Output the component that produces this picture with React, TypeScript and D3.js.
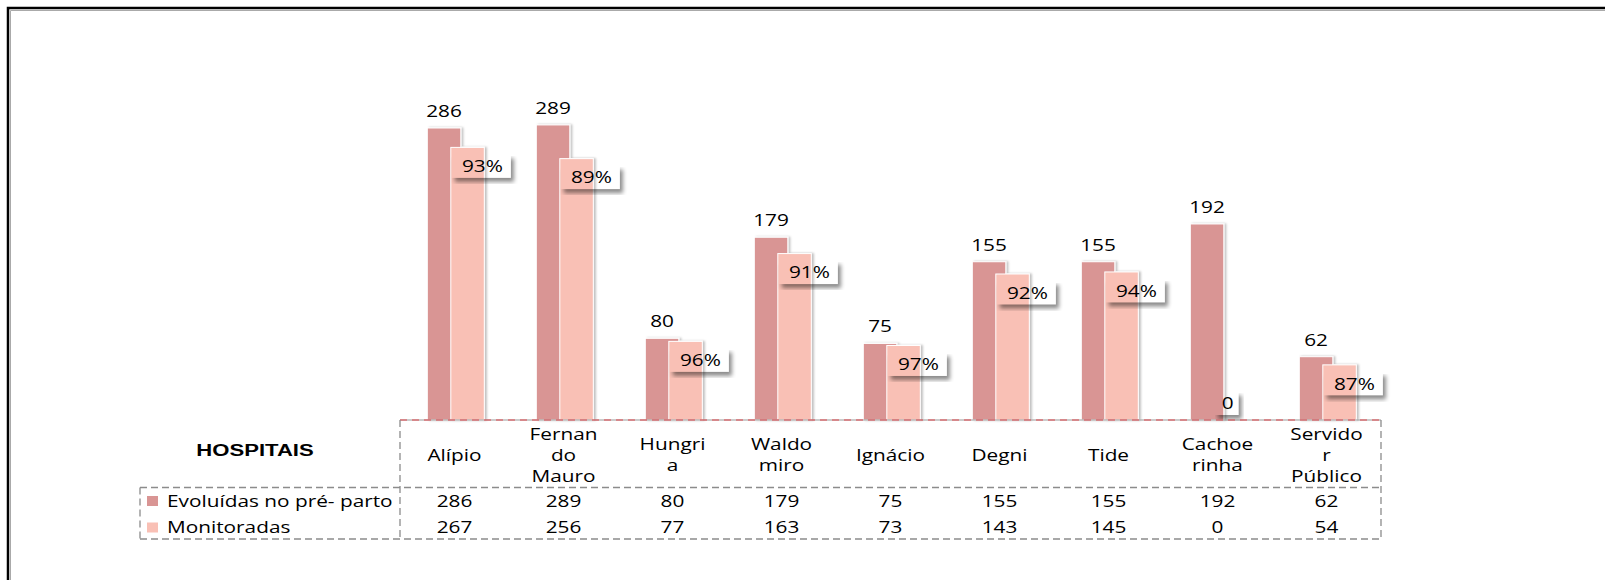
import React from 'react';
import * as d3 from 'd3';

// hospital names and how they wrap in the table header
const hospitals = ['Alípio', 'Fernando Mauro', 'Hungria', 'Waldomiro', 'Ignácio', 'Degni', 'Tide', 'Cachoeirinha', 'Servidor Público'];
const hospitalLines = [
  ['Alípio'],
  ['Fernan', 'do', 'Mauro'],
  ['Hungri', 'a'],
  ['Waldo', 'miro'],
  ['Ignácio'],
  ['Degni'],
  ['Tide'],
  ['Cachoe', 'rinha'],
  ['Servido', 'r', 'Público'],
];
const seriesNames = ['Evoluídas no pré- parto', 'Monitoradas'];
const evoluidas = [286, 289, 80, 179, 75, 155, 155, 192, 62];
const monitoradas = [267, 256, 77, 163, 73, 143, 145, 0, 54];
const pctLabels = ['93%', '89%', '96%', '91%', '97%', '92%', '94%', '0', '87%'];

const DARK = '#D99594';
const LIGHT = '#F9C0B5';
const FONT = '"Open Sans", "DejaVu Sans", sans-serif';
const SX = 1.3; // the original picture is stretched sideways

const W = 1605;
const H = 580;
const baseY = 420;
const axisLeft = 400;
const axisRight = 1381;
const barW = 33.5;
const lightOffset = 23.5;

const Txt = ({ x, y, children, anchor = 'middle', size = 16, weight = 400, family = FONT }: any) => (
  <text
    transform={`translate(${x},${y}) scale(${SX},1)`}
    textAnchor={anchor}
    fontSize={size}
    fontWeight={weight}
    fontFamily={family}
    fill="#000"
  >
    {children}
  </text>
);

// rough width of a label in px (Open Sans 16px, stretched)
const labelWidth = (s: string) =>
  s.split('').reduce((acc, c) => acc + (c === '%' ? 0.832 : 0.572), 0) * 16 * SX;

export default function App() {
  const x = d3.scaleBand<string>().domain(hospitals).range([axisLeft, axisRight]).padding(0);
  const y = d3.scaleLinear().domain([0, 300]).range([baseY, baseY - 306.3]);

  const cx = (h: string) => (x(h) as number) + x.bandwidth() / 2;
  const boxH = 23.5;
  const boxFor = (i: number) => {
    const s = pctLabels[i];
    const bw = labelWidth(s) + (s.length > 1 ? 18 : 12);
    const bx = cx(hospitals[i]) - 27.2 + lightOffset + 1;
    const by = Math.min(y(monitoradas[i]) + 7, baseY - boxH - 5);
    return { bx, by, bw };
  };

  return (
    <svg width={W} height={H} style={{ position: 'absolute', left: 0, top: 0, display: 'block' }}>
      <defs>
        <filter id="barShadow" x="-20%" y="-5%" width="150%" height="110%">
          <feDropShadow dx="2" dy="0" stdDeviation="1.2" floodColor="#000" floodOpacity="0.25" />
        </filter>
        <filter id="blur" x="-30%" y="-50%" width="160%" height="200%">
          <feGaussianBlur stdDeviation="2" />
        </filter>
        {pctLabels.map((s, i) => {
          const { bx, by, bw } = boxFor(i);
          return (
            <mask id={`m${i}`} key={i}>
              <rect x={0} y={0} width={W} height={H} fill="#fff" />
              <rect x={bx} y={by} width={bw} height={boxH} fill="#000" />
            </mask>
          );
        })}
      </defs>

      <rect x={0} y={0} width={W} height={H} fill="#fff" />

      {/* frame */}
      <rect x={8} y={8} width={1700} height={700} fill="none" stroke="#000" strokeWidth={2.5} />
      <path d={`M10.5,${H}V10.5H${W}`} fill="none" stroke="#aaa" strokeWidth={1} />

      {/* bars */}
      {hospitals.map((h, i) => {
        const left = cx(h) - 27.2;
        return (
          <g key={h} filter="url(#barShadow)">
            <rect x={left} y={y(evoluidas[i])} width={barW} height={baseY - y(evoluidas[i])} fill={DARK} stroke="#fff" strokeWidth={1} />
            {monitoradas[i] > 0 && (
              <rect
                x={left + lightOffset}
                y={y(monitoradas[i])}
                width={barW}
                height={baseY - y(monitoradas[i])}
                fill={LIGHT}
                stroke="#fff"
                strokeWidth={1}
              />
            )}
          </g>
        );
      })}

      {/* value labels above dark bars */}
      {hospitals.map((h, i) => (
        <Txt key={h} x={cx(h) - 27.2 + barW / 2} y={y(evoluidas[i]) - 11}>
          {evoluidas[i]}
        </Txt>
      ))}

      {/* percentage boxes */}
      {pctLabels.map((s, i) => {
        const { bx, by, bw } = boxFor(i);
        return (
          <g key={i}>
            <rect
              x={bx + 3}
              y={by + 4}
              width={bw}
              height={boxH}
              fill="#000"
              opacity={0.45}
              filter="url(#blur)"
              mask={`url(#m${i})`}
            />
            <Txt x={bx + bw / 2 + 1} y={by + boxH / 2 + 6}>
              {s}
            </Txt>
          </g>
        );
      })}

      {/* axis line */}
      <line x1={axisLeft} x2={axisRight} y1={baseY} y2={baseY} stroke="#999" strokeWidth={1.2} />
      <line x1={axisLeft} x2={axisRight} y1={baseY} y2={baseY} stroke="#E0454A" strokeWidth={1} strokeDasharray="7,5" />

      {/* data table borders */}
      <g fill="none" stroke="#8c8c8c" strokeWidth={1.3} strokeDasharray="7,4">
        <line x1={axisLeft} x2={axisLeft} y1={baseY} y2={539} />
        <line x1={axisRight} x2={axisRight} y1={baseY} y2={539} />
        <line x1={140} x2={axisRight} y1={487.5} y2={487.5} />
        <line x1={140} x2={axisRight} y1={539} y2={539} />
        <line x1={140} x2={140} y1={487.5} y2={539} />
      </g>

      <Txt x={255} y={456} size={17} weight={700} family='"Liberation Sans", Arial, sans-serif'>
        HOSPITAIS
      </Txt>

      {/* header row */}
      {hospitals.map((h, i) => {
        const lines = hospitalLines[i];
        const top = 455 - ((lines.length - 1) * 21.3) / 2;
        return (
          <g key={h}>
            {lines.map((ln, j) => (
              <Txt key={j} x={cx(h)} y={top + j * 21.3 + 5.8}>
                {ln}
              </Txt>
            ))}
          </g>
        );
      })}

      {/* legend rows */}
      {[evoluidas, monitoradas].map((vals, r) => {
        const rowY = r === 0 ? 501 : 527.5;
        return (
          <g key={r}>
            <rect x={147} y={rowY - 5} width={11} height={10} fill={r === 0 ? DARK : LIGHT} />
            <Txt x={167} y={rowY + 5.8} anchor="start">
              {seriesNames[r]}
            </Txt>
            {hospitals.map((h, i) => (
              <Txt key={h} x={cx(h)} y={rowY + 5.8}>
                {vals[i]}
              </Txt>
            ))}
          </g>
        );
      })}
    </svg>
  );
}
